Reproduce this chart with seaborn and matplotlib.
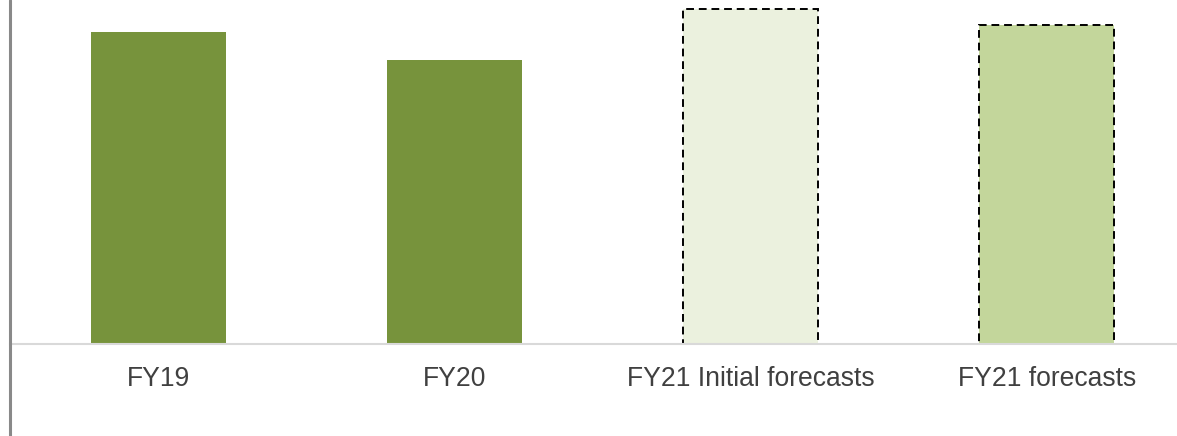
import matplotlib
matplotlib.use("Agg")
import matplotlib.pyplot as plt
import seaborn as sns
from matplotlib.lines import Line2D

# data (arbitrary units, no value axis shown)
categories = ["FY19", "FY20", "FY21 Initial forecasts", "FY21 forecasts"]
values = [312, 284, 335, 319]
colors = ["#77933C", "#77933C", "#EBF1DE", "#C3D69B"]
dashed = [False, False, True, True]

sns.set_theme(style="white")
plt.rcParams["font.family"] = ["Liberation Sans", "DejaVu Sans"]

fig = plt.figure(figsize=(11.77, 4.36), dpi=100)
ax = fig.add_axes([10 / 1177, 92 / 436, 1 - 10 / 1177, 344 / 436])

sns.barplot(x=categories, y=values, hue=categories, palette=colors,
            legend=False, width=0.456, saturation=1, ax=ax)

for patch, d in zip(ax.patches, dashed):
    if d:
        patch.set_edgecolor("black")
        patch.set_linewidth(1.4)
        patch.set_linestyle((0, (4, 2.5)))
    else:
        patch.set_edgecolor("none")

ax.set_xlim(-0.5, 3.44)
ax.set_ylim(0, 344)
ax.set_yticks([])
ax.set_xlabel("")
ax.set_ylabel("")
for s in ["top", "right", "left"]:
    ax.spines[s].set_visible(False)
ax.spines["bottom"].set_color("#D9D9D9")
ax.spines["bottom"].set_linewidth(1.5)
ax.spines["bottom"].set_zorder(5)
ax.tick_params(axis="x", length=0, pad=16, labelsize=19.1, labelcolor="#404040")

# grey vertical rule at the left edge
fig.add_artist(Line2D([9.5 / 1177, 9.5 / 1177], [0, 1], color="#898989",
                      linewidth=2.2, transform=fig.transFigure))

fig.savefig("out.png", dpi=100, facecolor="white")
